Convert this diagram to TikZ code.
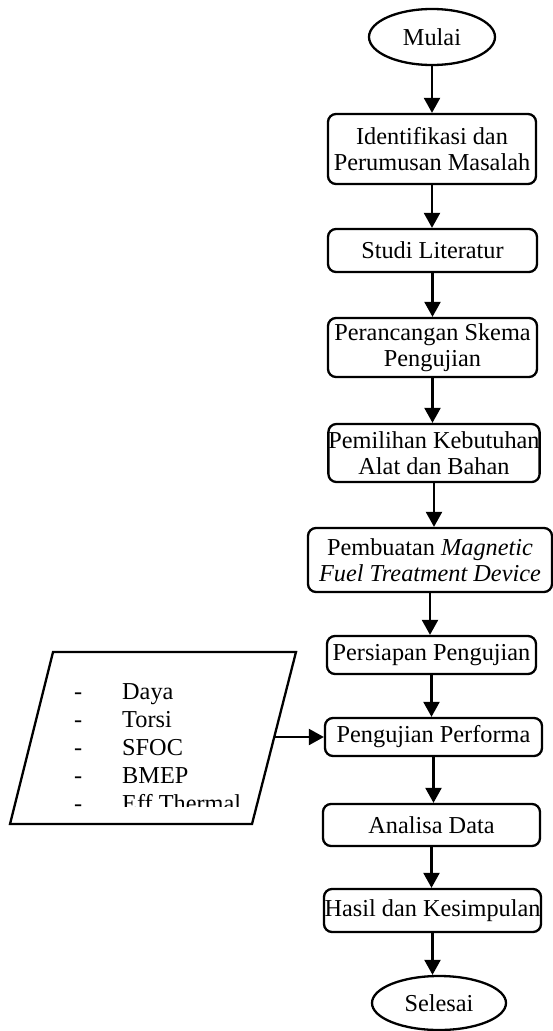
\documentclass[tikz,border=0pt]{standalone}
\usepackage{fontspec}
\setmainfont{Liberation Serif}
\usetikzlibrary{arrows.meta,shapes.geometric}
\begin{document}
\begin{tikzpicture}[x=1pt,y=-1pt,
  every node/.style={font=\fontsize{24.3}{26.5}\selectfont},
  proc/.style={draw, rounded corners=8pt, line width=2.3pt, inner sep=0pt, align=center},
  term/.style={draw, ellipse, line width=2.3pt, inner sep=0pt},
  arr/.style={line width=2.3pt, -{Triangle[length=15pt,width=16pt]}},
  item/.style={anchor=base west, inner sep=0pt}]
\useasboundingbox (0,0) rectangle (553,1031);

% main flow
\node[term, minimum width=126pt, minimum height=56pt] (start) at (432,37) {Mulai};
\node[proc, minimum width=208pt, minimum height=70pt] (b1) at (432,149) {Identifikasi dan\\Perumusan Masalah};
\node[proc, minimum width=209pt, minimum height=43pt] (b2) at (432.5,250.5) {Studi Literatur};
\node[proc, minimum width=209pt, minimum height=59pt] (b3) at (432.5,347.5) {Perancangan Skema\\Pengujian};
\node[proc, minimum width=208pt, minimum height=58pt] (b4) at (434,453) {Pemilihan Kebutuhan\\Alat dan Bahan};
\node[proc, minimum width=244pt, minimum height=64pt] (b5) at (430,560) {Pembuatan \textit{Magnetic}\\\textit{Fuel Treatment Device}};
\node[proc, minimum width=209pt, minimum height=38pt] (b6) at (431.5,655) {Persiapan Pengujian};
\node[proc, minimum width=217pt, minimum height=38pt] (b7) at (433.5,737) {Pengujian Performa};
\node[proc, minimum width=217pt, minimum height=42pt] (b8) at (431.5,825) {Analisa Data};
\node[proc, minimum width=217pt, minimum height=43pt] (b9) at (432.5,910.5) {Hasil dan Kesimpulan};
\node[term, minimum width=134pt, minimum height=54pt] (stop) at (439,1003) {Selesai};

% input parallelogram
\draw[line width=2.3pt] (53,652) -- (296,652) -- (252,824) -- (10,824) -- cycle;
\coordinate (inR) at (274.7,737);
\begin{scope}
  \clip (0,640) rectangle (320,806);
  \foreach \t [count=\i] in {Daya,Torsi,SFOC,BMEP,Eff Thermal}{
    \node[item] (d\i) at (74,671+28*\i) {-};
    \node[item] (l\i) at (122,671+28*\i) {\t};
  }
\end{scope}

% connectors
\draw[arr] (start.south) -- (start.south |- b1.north);
\draw[arr] (b1.south) -- (b1.south |- b2.north);
\draw[arr] (b2.south) -- (b2.south |- b3.north);
\draw[arr] (b3.south) -- (b3.south |- b4.north);
\draw[arr] (b4.south) -- (b4.south |- b5.north);
\draw[arr] (b5.south) -- (b5.south |- b6.north);
\draw[arr] (b6.south) -- (b6.south |- b7.north);
\draw[arr] (b7.south) -- (b7.south |- b8.north);
\draw[arr] (b8.south) -- (b8.south |- b9.north);
\draw[arr] (b9.south) -- (b9.south |- stop.north);
\draw[arr] (inR) -- (b7.west);
\end{tikzpicture}
\end{document}
